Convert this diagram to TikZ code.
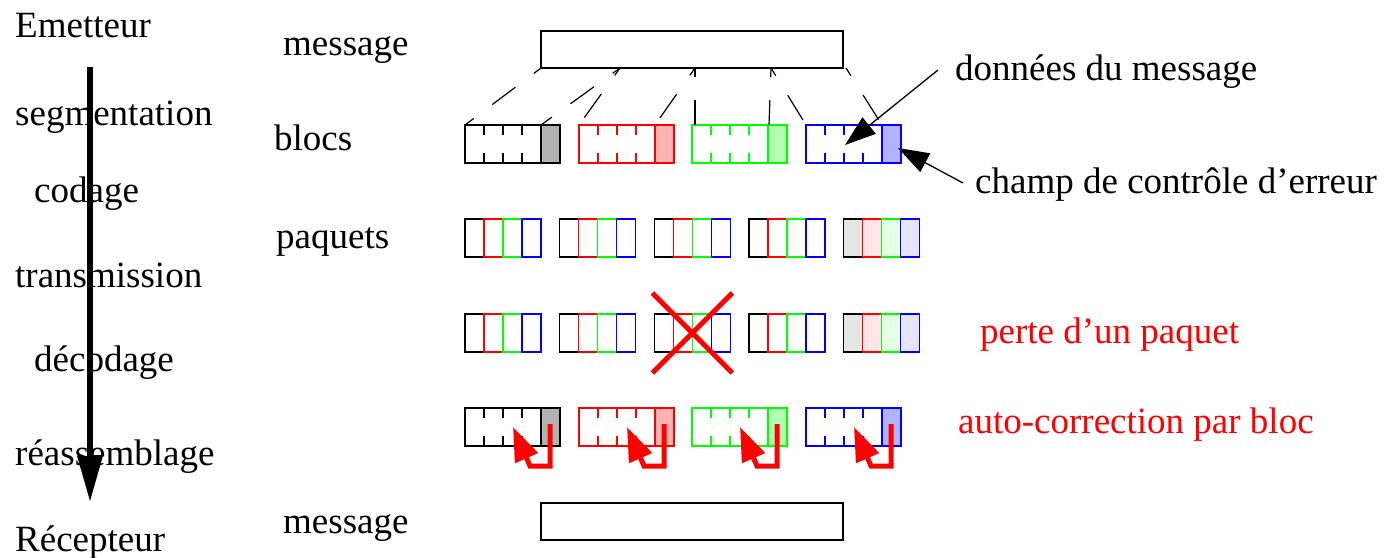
\documentclass[tikz,border=0pt]{standalone}
\usepackage{fontspec}
\setmainfont{Liberation Serif}
\usetikzlibrary{arrows.meta,calc}
\tikzset{
  lbl/.style={anchor=base west, inner sep=0pt, font=\fontsize{37}{40}\selectfont},
  cell/.style={line width=1.3pt},
  boxnode/.style={rectangle, inner sep=0pt, outer sep=0pt, anchor=north west},
  msgbox/.style={boxnode, draw, line width=1.3pt, minimum width=302pt, minimum height=37pt},
  blocbox/.style={boxnode, minimum width=95pt, minimum height=38pt},
  pkbox/.style={boxnode, minimum width=76pt, minimum height=38pt},
  seglink/.style={line width=1.2pt, dash pattern=on 29pt off 23pt, dash phase=20pt},
  pointer/.style={line width=1.3pt, -{Triangle[length=31pt,width=21pt]}},
  fixarrow/.style={red, line width=5pt, line join=miter, -{Triangle[length=34pt,width=24pt]}},
}
% block: name, x, y, colour
\newcommand\myblock[4]{%
  \node[blocbox] (#1) at (#2,#3) {};
  \fill[#4!30] ($(#1.north west)+(76,0)$) rectangle (#1.south east);
  \foreach \k in {19,38,57}{%
    \draw[cell,#4] ($(#1.north west)+(\k,0)$) -- ++(0,10);
    \draw[cell,#4] ($(#1.south west)+(\k,0)$) -- ++(0,-10);
  }
  \draw[cell,#4] ($(#1.north west)+(76,0)$) -- ($(#1.south west)+(76,0)$);
  \draw[cell,#4] (#1.north west) rectangle (#1.south east);
}
% packet: name, x, y, fill percentage
\newcommand\mypacket[4]{%
  \node[pkbox] (#1) at (#2,#3) {};
  \foreach \i/\c in {0/black,1/red,2/green,3/blue}{%
    \draw[cell,draw=\c,fill=\c!#4] ($(#1.north west)+(\i*19,0)$) rectangle ++(19,38);
  }
}
\begin{document}
\begin{tikzpicture}[x=1pt,y=-1pt]
\useasboundingbox (0,0) rectangle (1384,557);

% left column
\node[lbl] (em)  at (15,37.5)  {Emetteur};
\node[lbl] (seg) at (15,125)   {segmentation};
\node[lbl] (cod) at (34,202)   {codage};
\node[lbl] (tra) at (15,287.5) {transmission};
\node[lbl] (dec) at (34,371)   {décodage};
\node[lbl] (rea) at (15,465)   {réassemblage};
\node[lbl] (rec) at (15,551.5) {Récepteur};
\coordinate (flowtop) at (90,66.7);
\coordinate (flowend) at (90,502);
\draw[line width=6pt,-{Triangle[length=46pt,width=24pt]}] (flowtop) -- (flowend);

% row labels
\node[lbl] (lmsg)   at (283,55)    {message};
\node[lbl] (lblocs) at (274,150.7) {blocs};
\node[lbl] (lpaq)   at (276,248.3) {paquets};
\node[lbl] (lmsg2)  at (283,533)   {message};

% message boxes
\node[msgbox] (msg)  at (541,31)  {};
\node[msgbox] (msg2) at (541,503) {};

% blocks
\myblock{b1}{465}{125}{black}
\myblock{b2}{579}{125}{red}
\myblock{b3}{692}{125}{green}
\myblock{b4}{806}{125}{blue}

% segmentation links
\coordinate (m0) at (541,68);
\coordinate (m1) at (620,68);
\coordinate (m2) at (695,68);
\coordinate (m3) at (771,68);
\coordinate (m4) at (846,68);
\draw[seglink] (m0) -- (b1.north west);
\draw[seglink] (m1) -- ($(b1.north west)+(76,0)$);
\draw[seglink] (m1) -- (b2.north west);
\draw[seglink] (m2) -- ($(b2.north west)+(76,0)$);
\draw[seglink] (m2) -- ($(b3.north west)+(3,0)$);
\draw[seglink] (m3) -- ($(b3.north west)+(77,0)$);
\draw[seglink] (m3) -- (b4.north west);
\draw[seglink] (m4) -- ($(b4.north west)+(76,0)$);

% packets
\mypacket{p1}{465}{219}{0}
\mypacket{p2}{559.7}{219}{0}
\mypacket{p3}{654.3}{219}{0}
\mypacket{p4}{749}{219}{0}
\mypacket{p5}{843.7}{219}{10}

\mypacket{q1}{465}{314}{0}
\mypacket{q2}{559.7}{314}{0}
\mypacket{q3}{654.3}{314}{0}
\mypacket{q4}{749}{314}{0}
\mypacket{q5}{843.7}{314}{10}
\draw[red,line width=5pt] ($(q3.center)+(-40,-40)$) -- ($(q3.center)+(40,40)$);
\draw[red,line width=5pt] ($(q3.center)+(40,-40)$) -- ($(q3.center)+(-40,40)$);

% received blocks
\myblock{r1}{465}{408}{black}
\myblock{r2}{579}{408}{red}
\myblock{r3}{692}{408}{green}
\myblock{r4}{806}{408}{blue}
\foreach \r in {r1,r2,r3,r4}{%
  \draw[fixarrow] ($(\r.north west)+(85,16)$) -- ($(\r.north west)+(85,58)$)
     -- ($(\r.north west)+(65,58)$) -- ($(\r.north west)+(48,19)$);
}

% annotations
\node[lbl] (ldon)   at (955,80)  {données du message};
\node[lbl] (lchamp) at (975,193) {champ de contrôle d’erreur};
\node[lbl,red] (lperte) at (980,343) {perte d’un paquet};
\node[lbl,red] (lauto)  at (958,433) {auto-correction par bloc};
\coordinate (donstart) at (938,70);
\coordinate (chstart) at (963,183);
\draw[pointer] (donstart) -- ($(b4.north west)+(39,20)$);
\draw[pointer] (chstart) -- ($(b4.north west)+(92,23)$);
\end{tikzpicture}
\end{document}
